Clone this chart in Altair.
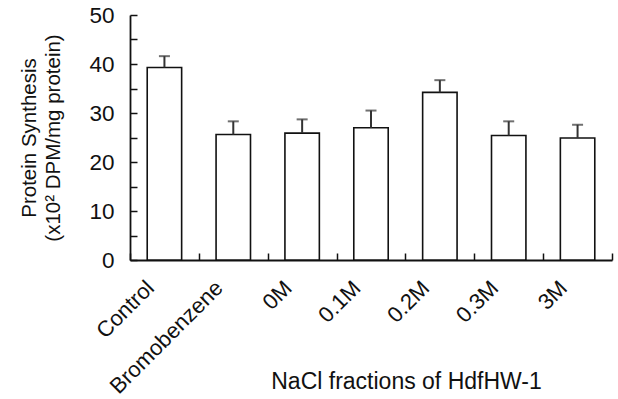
import altair as alt
import pandas as pd

categories = ["Control", "Bromobenzene", "0M", "0.1M", "0.2M", "0.3M", "3M"]
means = [39.3, 25.6, 25.9, 27.0, 34.2, 25.4, 24.9]
errors = [2.3, 2.7, 2.8, 3.5, 2.5, 2.9, 2.7]
y_ticks = [0, 5, 10, 15, 20, 25, 30, 35, 40, 45, 50]

df = pd.DataFrame({
    "cat": categories,
    "mean": means,
    "upper": [m + e for m, e in zip(means, errors)],
})

FONT = "Liberation Sans"
INK = "#111111"

x_scale = alt.Scale(paddingInner=0, paddingOuter=0)
y_scale = alt.Scale(domain=[0, 50], nice=False, zero=True)

# main axes: domain, labels, titles (no ticks)
x_main = alt.X(
    "cat:N",
    sort=categories,
    scale=x_scale,
    axis=alt.Axis(
        title="NaCl fractions of HdfHW-1",
        titleFont=FONT, titleFontSize=23, titleFontWeight="normal", titleColor=INK,
        titleX=276, titleY=128, titleAlign="center", titleBaseline="alphabetic",
        labelAngle=-45, labelAlign="right", labelBaseline="middle",
        labelFont=FONT, labelFontSize=22, labelColor=INK,
        labelPadding=24, labelOffset=-14, labelOverlap=False,
        ticks=False,
        domainColor=INK, domainWidth=1.8,
    ),
)
y_main = alt.Y(
    "mean:Q",
    scale=y_scale,
    axis=alt.Axis(
        title=["Protein Synthesis", "(x10\u00b2 DPM/mg protein)"],
        titleFont=FONT, titleFontSize=20.5, titleFontWeight="normal", titleColor=INK,
        titleLineHeight=24, titlePadding=25,
        values=[0, 10, 20, 30, 40, 50],
        labelFont=FONT, labelFontSize=22.5, labelColor=INK, labelPadding=16,
        ticks=False,
        domainColor=INK, domainWidth=1.8, grid=False,
    ),
)

# inward-pointing tick axes
x_ticks_axis = alt.X(
    "cat:N",
    sort=categories,
    scale=x_scale,
    axis=alt.Axis(
        title=None, labels=False, domain=False, grid=False,
        orient="bottom", offset=-7,
        tickBand="extent", tickSize=7, tickWidth=1.5, tickColor=INK,
    ),
)
y_ticks_axis = alt.Y(
    "upper:Q",
    scale=y_scale,
    axis=alt.Axis(
        title=None, labels=False, domain=False, grid=False,
        orient="left", offset=-7, values=y_ticks,
        tickSize=7, tickWidth=1.5, tickColor=INK,
    ),
)

bars = alt.Chart(df).mark_bar(
    width=alt.RelativeBandSize(0.5), fill="white", stroke=INK, strokeWidth=1.6
).encode(x=x_main, y=y_main)

err = alt.Chart(df).mark_rule(color="#333333", strokeWidth=2).encode(
    x=x_ticks_axis,
    y=y_ticks_axis,
    y2="mean:Q",
)

caps = alt.Chart(df).mark_tick(color="#333333", size=11, thickness=2).encode(
    x=alt.X("cat:N", sort=categories, axis=None),
    y=alt.Y("upper:Q", axis=None),
)

chart = alt.layer(bars, err, caps).resolve_axis(
    x="independent", y="independent"
).properties(
    width=482,
    height=245,
    autosize=alt.AutoSizeParams(type="none"),
    padding={"left": 130, "top": 15, "right": 6, "bottom": 139},
    background="white",
).configure_view(stroke=None)

chart.save("out.html", embed_options={"renderer": "svg", "actions": False})
